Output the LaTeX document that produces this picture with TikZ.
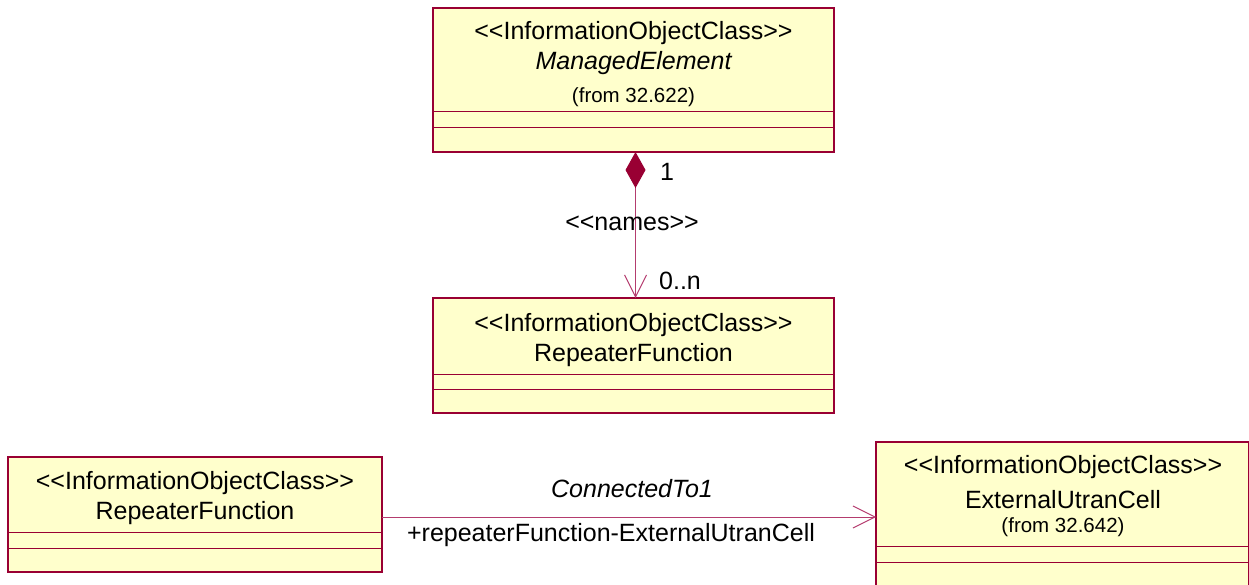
\documentclass[tikz,border=0pt]{standalone}
\usepackage{fontspec}
\setmainfont{Liberation Sans}
\usetikzlibrary{arrows.meta}
\definecolor{umlborder}{RGB}{153,0,51}
\definecolor{umlfill}{RGB}{255,255,204}
\definecolor{umlline}{RGB}{180,60,110}
\begin{document}
\begin{tikzpicture}[x=1pt,y=-1pt,
  classbox/.style={draw=umlborder,fill=umlfill,line width=1.3pt,inner sep=0pt,outer sep=0pt,anchor=north west},
  divider/.style={draw=umlborder,line width=0.9pt},
  txt/.style={font=\fontsize{25}{30}\selectfont,inner sep=0pt,text=black},
  small/.style={font=\fontsize{20.5}{24}\selectfont,inner sep=0pt,text=black},
  conn/.style={draw=umlline,line width=1pt}]
\useasboundingbox (0,0) rectangle (1249,585);
\clip (0,0) rectangle (1249,585);

% ManagedElement
\node[classbox,minimum width=401pt,minimum height=144pt] (me) at (433,8) {};
\draw[divider] (me.west |- 0,111) -- (me.east |- 0,111);
\draw[divider] (me.west |- 0,127) -- (me.east |- 0,127);
\node[txt] (me1) at (633.5,33) {<{}<InformationObjectClass>{}>};
\node[txt,font=\fontsize{25}{30}\selectfont\itshape] (me2) at (633.5,63) {ManagedElement};
\node[small] (me3) at (633.5,97) {(from 32.622)};

% RepeaterFunction (top)
\node[classbox,minimum width=401pt,minimum height=115pt] (rf) at (433,298) {};
\draw[divider] (rf.west |- 0,374) -- (rf.east |- 0,374);
\draw[divider] (rf.west |- 0,389) -- (rf.east |- 0,389);
\node[txt] (rf1) at (633.5,325) {<{}<InformationObjectClass>{}>};
\node[txt] (rf2) at (633.5,355) {RepeaterFunction};

% RepeaterFunction (bottom left)
\node[classbox,minimum width=374pt,minimum height=115pt] (rfb) at (8,457) {};
\draw[divider] (rfb.west |- 0,532) -- (rfb.east |- 0,532);
\draw[divider] (rfb.west |- 0,548) -- (rfb.east |- 0,548);
\node[txt] (rfb1) at (195,483) {<{}<InformationObjectClass>{}>};
\node[txt] (rfb2) at (195,513) {RepeaterFunction};

% ExternalUtranCell
\node[classbox,minimum width=372.5pt,minimum height=160pt] (euc) at (876,442) {};
\draw[divider] (euc.west |- 0,546) -- (euc.east |- 0,546);
\draw[divider] (euc.west |- 0,562) -- (euc.east |- 0,562);
\node[txt] (euc1) at (1063,467) {<{}<InformationObjectClass>{}>};
\node[txt] (euc2) at (1063,500) {ExternalUtranCell};
\node[small] (euc3) at (1063,527) {(from 32.642)};

% names association
\draw[conn,{Diamond[length=36pt,width=20pt,fill=umlborder,color=umlborder]}-{Straight Barb[length=22pt,width=22pt]}]
  ([xshift=2pt]me.south) -- ([xshift=2pt]rf.north);
\node[txt] (one) at (667,172) {1};
\node[txt] (names) at (632,223) {<{}<names>{}>};
\node[txt] (zn) at (680,281) {0..n};

% ConnectedTo1 association
\coordinate (cstart) at (rfb.east |- 0,517);
\draw[conn,-{Straight Barb[length=22pt,width=22pt]}] (cstart) -- (cstart -| euc.west);
\node[txt,font=\fontsize{25}{30}\selectfont\itshape] (cto) at (632,489) {ConnectedTo1};
\node[txt] (rfe) at (611,535) {+repeaterFunction-ExternalUtranCell};
\end{tikzpicture}
\end{document}
